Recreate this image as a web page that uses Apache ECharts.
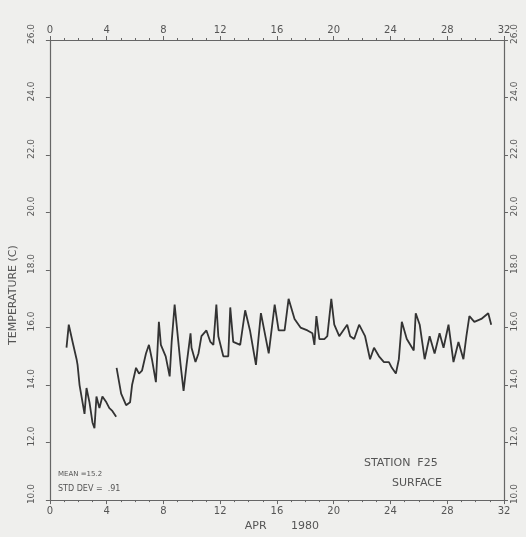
<!DOCTYPE html>
<html>
<head>
<meta charset="utf-8">
<script src="https://cdn.jsdelivr.net/npm/echarts@6/dist/echarts.min.js"></script>
<style>
html,body{margin:0;padding:0;background:#efefed;}
#c{width:526px;height:537px;}
</style>
</head>
<body>
<div id="c"></div>
<script>
// Day of April 1980 (x) and surface temperature in C (y)
const days1 = [1.17,1.33,1.60,1.88,1.95,2.09,2.23,2.44,2.58,2.79,3.00,3.14,3.28,3.49,3.70,3.98,4.19,4.40,4.67];
const temps1 = [15.3,16.1,15.5,14.9,14.7,14.0,13.6,13.0,13.9,13.4,12.7,12.5,13.6,13.2,13.6,13.4,13.2,13.1,12.9];
const days2 = [4.70,5.02,5.37,5.65,5.79,6.07,6.28,6.49,6.77,6.98,7.19,7.47,7.68,7.82,8.16,8.44,8.58,8.79,8.93,9.21,9.42,9.63,9.91,9.98,10.26,10.47,10.68,11.03,11.31,11.52,11.73,11.87,12.22,12.57,12.71,12.92,13.41,13.76,14.10,14.52,14.87,15.42,15.84,16.12,16.54,16.82,17.24,17.66,18.15,18.50,18.64,18.78,18.99,19.34,19.55,19.83,20.04,20.39,20.95,21.16,21.44,21.79,22.21,22.56,22.84,23.19,23.54,23.89,24.10,24.38,24.59,24.80,25.15,25.64,25.78,26.06,26.41,26.76,27.11,27.46,27.74,28.09,28.44,28.79,29.14,29.35,29.56,29.91,30.40,30.89,31.10];
const temps2 = [14.6,13.7,13.3,13.4,14.0,14.6,14.4,14.5,15.1,15.4,14.9,14.1,16.2,15.4,15.0,14.3,15.5,16.8,16.1,14.7,13.8,14.7,15.8,15.3,14.8,15.1,15.7,15.9,15.5,15.4,16.8,15.7,15.0,15.0,16.7,15.5,15.4,16.6,15.9,14.7,16.5,15.1,16.8,15.9,15.9,17.0,16.3,16.0,15.9,15.8,15.4,16.4,15.6,15.6,15.7,17.0,16.1,15.7,16.1,15.7,15.6,16.1,15.7,14.9,15.3,15.0,14.8,14.8,14.6,14.4,14.9,16.2,15.6,15.2,16.5,16.1,14.9,15.7,15.1,15.8,15.3,16.1,14.8,15.5,14.9,15.7,16.4,16.2,16.3,16.5,16.1];
const xTicks = [0,4,8,12,16,20,24,28,32];
const yTicks = [10,12,14,16,18,20,22,24,26];
const statsText = ["MEAN =15.2", "STD DEV =  .91"];
const stationText = ["STATION  F25", "SURFACE"];

const data1 = days1.map((d,i)=>[d,temps1[i]]);
const data2 = days2.map((d,i)=>[d,temps2[i]]);

const axisCol = '#666';
const txtCol = '#555';
const font = 'DejaVu Sans';

function xAx(pos){
  return {
    type:'value', position:pos, min:xTicks[0], max:xTicks[xTicks.length-1], interval:4,
    axisLine:{show:true,onZero:false,lineStyle:{color:axisCol,width:1.2}},
    axisTick:{show:true,length:4,lineStyle:{color:axisCol}},
    minorTick:{show:true,splitNumber:4,length:2,lineStyle:{color:axisCol}},
    splitLine:{show:false},
    axisLabel:{color:txtCol,fontSize:10,fontFamily:font,margin:pos==='top'?5:6},
    name: pos==='bottom' ? 'APR       1980' : '',
    nameLocation:'middle', nameGap:19,
    nameTextStyle:{color:txtCol,fontSize:11,fontFamily:font,padding:[0,0,0,10]}
  };
}
function yAx(pos){
  return {
    type:'value', position:pos, min:yTicks[0], max:yTicks[yTicks.length-1], interval:2,
    axisLine:{show:true,onZero:false,lineStyle:{color:axisCol,width:1.2}},
    axisTick:{show:true,length:4,lineStyle:{color:axisCol}},
    splitLine:{show:false},
    axisLabel:{color:txtCol,fontSize:9,fontFamily:font,rotate:90,margin:pos==='left'?14:6,
      padding:[0,0,0,12], formatter:v=>v.toFixed(1)},
    name: pos==='left' ? 'TEMPERATURE (C)' : '',
    nameLocation:'middle', nameGap:22,
    nameTextStyle:{color:txtCol,fontSize:11,fontFamily:font,padding:[0,50,0,0]}
  };
}

const chart = echarts.init(document.getElementById('c'));
chart.setOption({
  backgroundColor:'#efefed',
  animation:false,
  grid:{left:45,right:22,top:40,bottom:29},
  xAxis:[xAx('bottom'), xAx('top')],
  yAxis:[yAx('left'), yAx('right')],
  series:[
    {type:'line',data:data1,showSymbol:false,lineStyle:{color:'#333',width:1.8}},
    {type:'line',data:data2,showSymbol:false,lineStyle:{color:'#333',width:1.8}}
  ],
  graphic:[
    {type:'text',left:58,top:471,style:{text:statsText[0],fill:txtCol,font:'7px "DejaVu Sans"'}},
    {type:'text',left:58,top:485,style:{text:statsText[1],fill:txtCol,font:'8px "DejaVu Sans"'}},
    {type:'text',left:364,top:458,style:{text:stationText[0],fill:txtCol,font:'11px "DejaVu Sans"'}},
    {type:'text',left:392,top:478,style:{text:stationText[1],fill:txtCol,font:'11px "DejaVu Sans"'}}
  ]
});
</script>
</body>
</html>
